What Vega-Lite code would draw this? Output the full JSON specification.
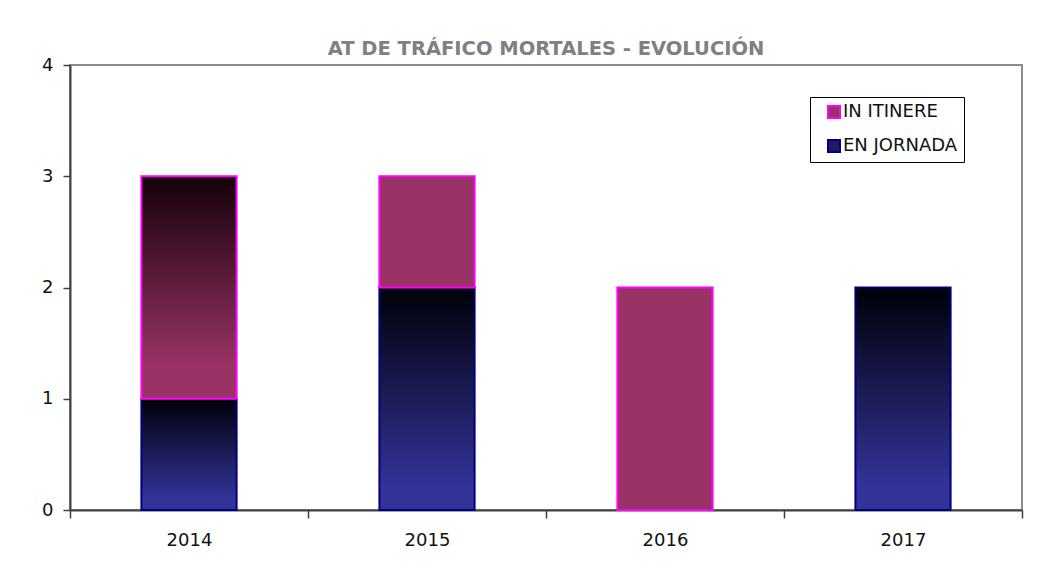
{
  "$schema": "https://vega.github.io/schema/vega-lite/v6.json",
  "autosize": "none",
  "width": 952,
  "height": 445,
  "padding": {"left": 70, "top": 65, "right": 26, "bottom": 67},
  "background": "white",
  "title": {
    "text": "AT DE TRÁFICO MORTALES - EVOLUCIÓN",
    "font": "DejaVu Sans",
    "fontSize": 19.5,
    "fontWeight": "bold",
    "color": "#808080",
    "offset": -3,
    "anchor": "middle"
  },
  "config": {
    "view": {"stroke": "#8c8c8c", "strokeWidth": 2},
    "axis": {
      "labelFont": "DejaVu Sans",
      "labelFontSize": 18,
      "labelColor": "#111111",
      "domainColor": "#404040",
      "domainWidth": 2,
      "tickColor": "#404040",
      "tickWidth": 1.5,
      "grid": false,
      "title": null
    }
  },
  "data": {
    "values": [
      {"year": "2014", "type": "EN JORNADA", "count": 1},
      {"year": "2014", "type": "IN ITINERE", "count": 2},
      {"year": "2015", "type": "EN JORNADA", "count": 2},
      {"year": "2015", "type": "IN ITINERE", "count": 1},
      {"year": "2016", "type": "IN ITINERE", "count": 2},
      {"year": "2017", "type": "EN JORNADA", "count": 2}
    ]
  },
  "mark": {"type": "bar", "strokeWidth": 2, "width": {"band": 0.4}},
  "encoding": {
    "x": {
      "field": "year",
      "type": "nominal",
      "scale": {"paddingInner": 0, "paddingOuter": 0},
      "axis": {"labelAngle": 0, "tickBand": "extent", "tickSize": 8, "labelPadding": 13}
    },
    "y": {
      "field": "count",
      "type": "quantitative",
      "stack": "zero",
      "scale": {"domain": [0, 4], "nice": false},
      "axis": {"values": [0, 1, 2, 3, 4], "tickSize": 7, "labelPadding": 10, "format": "d"}
    },
    "order": {"field": "type", "sort": "ascending"},
    "fill": {
      "condition": [
        {
          "test": "datum.type === 'EN JORNADA'",
          "value": {
            "gradient": "linear", "x1": 0, "y1": 0, "x2": 0, "y2": 1,
            "stops": [
              {"offset": 0, "color": "#000008"},
              {"offset": 0.9, "color": "#333399"},
              {"offset": 1, "color": "#333399"}
            ]
          }
        },
        {
          "test": "datum.year === '2014'",
          "value": {
            "gradient": "linear", "x1": 0, "y1": 0, "x2": 0, "y2": 1,
            "stops": [
              {"offset": 0, "color": "#14000a"},
              {"offset": 0.85, "color": "#993366"},
              {"offset": 1, "color": "#993366"}
            ]
          }
        }
      ],
      "field": "type",
      "type": "nominal",
      "scale": {"domain": ["IN ITINERE", "EN JORNADA"], "range": ["#993366", "#1c1c5e"]},
      "legend": {
        "title": null,
        "orient": "none",
        "legendX": 740,
        "legendY": 32,
        "strokeColor": "#000000",
        "padding": 6,
        "symbolOffset": 9,
        "rowPadding": 14,
        "symbolType": "square",
        "symbolSize": 144,
        "symbolStrokeWidth": 2,
        "labelFont": "DejaVu Sans",
        "labelFontSize": 18,
        "labelColor": "#111111",
        "labelOffset": 0
      }
    },
    "stroke": {
      "field": "type",
      "type": "nominal",
      "scale": {"domain": ["IN ITINERE", "EN JORNADA"], "range": ["#FF00FF", "#000080"]},
      "legend": {
        "title": null,
        "orient": "none",
        "legendX": 740,
        "legendY": 32,
        "strokeColor": "#000000",
        "padding": 6,
        "symbolOffset": 9,
        "rowPadding": 14,
        "symbolType": "square",
        "symbolSize": 144,
        "symbolStrokeWidth": 2,
        "labelFont": "DejaVu Sans",
        "labelFontSize": 18,
        "labelColor": "#111111",
        "labelOffset": 0
      }
    }
  }
}
